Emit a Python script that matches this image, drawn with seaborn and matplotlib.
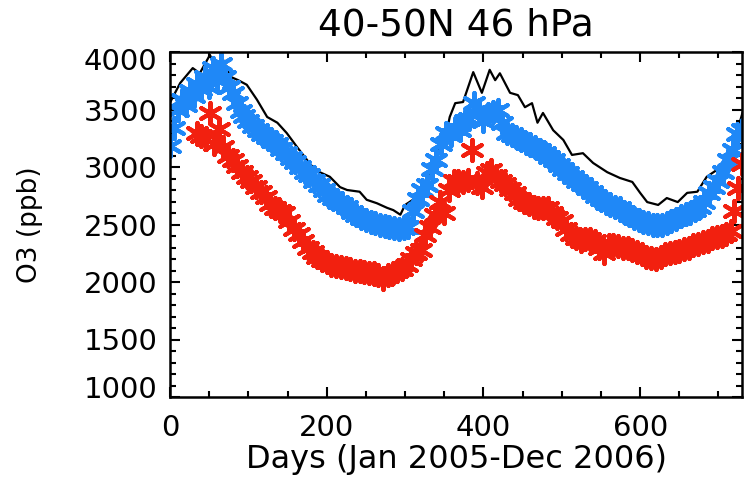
import matplotlib
matplotlib.use("Agg")
import matplotlib.pyplot as plt
import matplotlib.transforms as mtransforms
from matplotlib.ticker import FixedLocator, MultipleLocator
import seaborn as sns
import pandas as pd

# Title and axis labels
title = "40-50N 46 hPa"
xlabel = "Days (Jan 2005-Dec 2006)"
ylabel = "O3 (ppb)"

# Axis limits and ticks
x_ticks = [0, 200, 400, 600]
y_ticks = [1000, 1500, 2000, 2500, 3000, 3500, 4000]

# Black line series
line_days = [0, 3, 13, 29, 38, 51, 57, 68, 77, 87, 98, 111, 124, 137, 149, 162,
             175, 182, 191, 204, 217, 226, 242, 251, 264, 277, 285, 294, 300,
             310, 323, 332, 341, 345, 351, 357, 364, 374, 387, 398, 408, 415,
             421, 434, 444, 453, 462, 469, 476, 489, 502, 513, 527, 540, 558,
             574, 590, 600, 609, 623, 634, 648, 660, 673, 685, 698, 711, 721,
             727, 731]
line_o3 = [3560, 3600, 3730, 3860, 3815, 3975, 3870, 3930, 3785, 3755, 3715,
           3585, 3435, 3385, 3295, 3175, 3060, 3000, 2955, 2915, 2825, 2800,
           2785, 2715, 2685, 2645, 2625, 2585, 2670, 2715, 2825, 2950, 3120,
           3260, 3235, 3435, 3555, 3565, 3825, 3645, 3845, 3755, 3815, 3645,
           3625, 3520, 3555, 3385, 3470, 3320, 3235, 3105, 3120, 3035, 2955,
           2905, 2870, 2775, 2695, 2670, 2730, 2695, 2775, 2785, 2915, 2975,
           3085, 3210, 3385, 3480]

# Blue asterisk series
blue_days = [0, 5, 10, 15, 20, 25, 30, 35, 40, 45, 50, 55, 60, 65, 70, 75, 80,
             85, 90, 95, 100, 106, 112, 118, 124, 130, 136, 142, 148, 154, 160,
             166, 172, 178, 184, 190, 196, 202, 208, 214, 220, 226, 232, 238,
             244, 250, 256, 262, 268, 274, 280, 286, 292, 298, 304, 310, 316,
             322, 328, 334, 340, 346, 352, 358, 364, 370, 376, 382, 388, 394,
             400, 406, 412, 418, 424, 430, 436, 442, 448, 454, 460, 466, 472,
             478, 484, 490, 496, 502, 508, 514, 520, 526, 532, 538, 544, 550,
             556, 562, 568, 574, 580, 586, 592, 598, 604, 610, 616, 622, 628,
             634, 640, 646, 652, 658, 664, 670, 676, 682, 688, 694, 700, 706,
             712, 718, 724, 730]
blue_o3 = [3180, 3340, 3500, 3580, 3540, 3660, 3620, 3720, 3680, 3780, 3700,
           3860, 3760, 3900, 3780, 3700, 3640, 3560, 3490, 3440, 3400, 3360,
           3320, 3290, 3260, 3230, 3200, 3160, 3120, 3080, 3040, 3000, 2960,
           2930, 2880, 2840, 2800, 2760, 2730, 2700, 2680, 2650, 2610, 2580,
           2560, 2540, 2520, 2510, 2500, 2490, 2480, 2470, 2460, 2470, 2480,
           2620, 2720, 2800, 2840, 2980, 3060, 3200, 3300, 3280, 3340, 3320,
           3400, 3420, 3560, 3500, 3400, 3460, 3480, 3500, 3380, 3300, 3280,
           3260, 3240, 3210, 3190, 3170, 3150, 3120, 3090, 3060, 3020, 2980,
           2950, 2910, 2880, 2850, 2820, 2780, 2750, 2720, 2690, 2670, 2650,
           2640, 2610, 2580, 2560, 2540, 2520, 2510, 2500, 2500, 2500, 2510,
           2530, 2550, 2570, 2590, 2600, 2630, 2650, 2700, 2770, 2830, 2880,
           2960, 3060, 3150, 3290, 3320]

# Red asterisk series
red_days = [34, 40, 46, 51, 56, 62, 68, 74, 80, 86, 92, 98, 104, 110, 116, 122,
            128, 134, 140, 146, 152, 158, 164, 170, 176, 182, 188, 194, 200,
            206, 212, 218, 224, 230, 236, 242, 248, 254, 260, 266, 272, 278,
            284, 290, 296, 302, 308, 314, 320, 326, 332, 338, 344, 350, 356,
            362, 368, 374, 380, 386, 392, 398, 404, 410, 416, 422, 428, 434,
            440, 446, 452, 458, 464, 470, 476, 482, 488, 494, 500, 506, 512,
            518, 524, 530, 536, 542, 548, 554, 560, 566, 572, 578, 584, 590,
            596, 602, 608, 614, 620, 626, 632, 638, 644, 650, 656, 662, 668,
            674, 680, 686, 692, 698, 704, 710, 716, 720, 725, 730]
red_o3 = [3300, 3270, 3240, 3470, 3200, 3330, 3170, 3100, 3060, 3010, 2960,
          2910, 2880, 2830, 2780, 2740, 2680, 2640, 2620, 2600, 2530, 2460,
          2420, 2360, 2300, 2260, 2220, 2190, 2170, 2150, 2140, 2130, 2120,
          2110, 2100, 2100, 2090, 2080, 2080, 2060, 2030, 2060, 2080, 2100,
          2110, 2150, 2200, 2250, 2280, 2410, 2480, 2580, 2700, 2600, 2800,
          2880, 2880, 2870, 2890, 3150, 2860, 2830, 2950, 2970, 2920, 2880,
          2850, 2810, 2770, 2720, 2700, 2680, 2650, 2640, 2640, 2640, 2600,
          2560, 2530, 2460, 2420, 2380, 2360, 2370, 2370, 2360, 2300, 2250,
          2320, 2320, 2310, 2300, 2300, 2280, 2260, 2240, 2220, 2210, 2200,
          2220, 2240, 2250, 2260, 2270, 2290, 2300, 2320, 2330, 2350, 2360,
          2380, 2390, 2400, 2420, 2440, 2620, 2820, 3030]

line_df = pd.DataFrame({"day": line_days, "o3": line_o3})
blue_df = pd.DataFrame({"day": blue_days, "o3": blue_o3})
red_df = pd.DataFrame({"day": red_days, "o3": red_o3})

sns.set_style("ticks")
plt.rcParams["font.family"] = ["DejaVu Sans"]
plt.rcParams["text.color"] = "black"
plt.rcParams["axes.labelcolor"] = "black"
plt.rcParams["xtick.color"] = "black"
plt.rcParams["ytick.color"] = "black"

fig = plt.figure(figsize=(7.5, 4.82), dpi=100)
ax = fig.add_axes([170 / 750, 1 - 397 / 482, 572 / 750, 345 / 482])

star = (6, 2, 0)
blue = "#1f88f7"
red = "#f2200f"
sns.lineplot(data=line_df, x="day", y="o3", ax=ax, color="black",
             linewidth=1.6, estimator=None, sort=False, zorder=2)
sns.scatterplot(data=blue_df, x="day", y="o3", ax=ax, color=blue,
                edgecolor=blue, marker=star, s=230, linewidth=3.0, zorder=3)
sns.scatterplot(data=red_df, x="day", y="o3", ax=ax, color=red,
                edgecolor=red, marker=star, s=230, linewidth=3.0, zorder=4)

ax.set_xlim(0, 730)
ax.set_ylim(1000, 4000)
ax.xaxis.set_major_locator(FixedLocator(x_ticks))
ax.xaxis.set_minor_locator(MultipleLocator(50))
ax.yaxis.set_major_locator(FixedLocator(y_ticks))
ax.yaxis.set_minor_locator(MultipleLocator(100))

for side in ["left", "right", "top", "bottom"]:
    ax.spines[side].set_visible(True)
    ax.spines[side].set_linewidth(1.8)
    ax.spines[side].set_color("black")
    ax.spines[side].set_zorder(5)

ax.tick_params(axis="both", which="both", direction="in", top=True,
               right=True, color="black", width=1.5)
ax.tick_params(axis="both", which="major", length=7.5, labelsize=21)
ax.tick_params(axis="both", which="minor", length=4.5)
ax.tick_params(axis="x", which="major", pad=12)
ax.tick_params(axis="y", which="major", pad=9)

# Pull the end labels of the O3 axis inside the frame
fig.canvas.draw()
ylabels = ax.get_yticklabels()
shift_up = mtransforms.ScaledTranslation(0, 7 / 72, fig.dpi_scale_trans)
shift_dn = mtransforms.ScaledTranslation(0, -5 / 72, fig.dpi_scale_trans)
ylabels[0].set_transform(ylabels[0].get_transform() + shift_up)
ylabels[-1].set_transform(ylabels[-1].get_transform() + shift_dn)

ax.set_title(title, fontsize=27, pad=12)
ax.set_xlabel(xlabel, fontsize=23, va="top")
ax.xaxis.set_label_coords(0.5, -0.135)
ax.set_ylabel(ylabel, fontsize=19)
ax.yaxis.set_label_coords(-0.222, 0.5)

fig.savefig("out.png", dpi=100, facecolor="white")
